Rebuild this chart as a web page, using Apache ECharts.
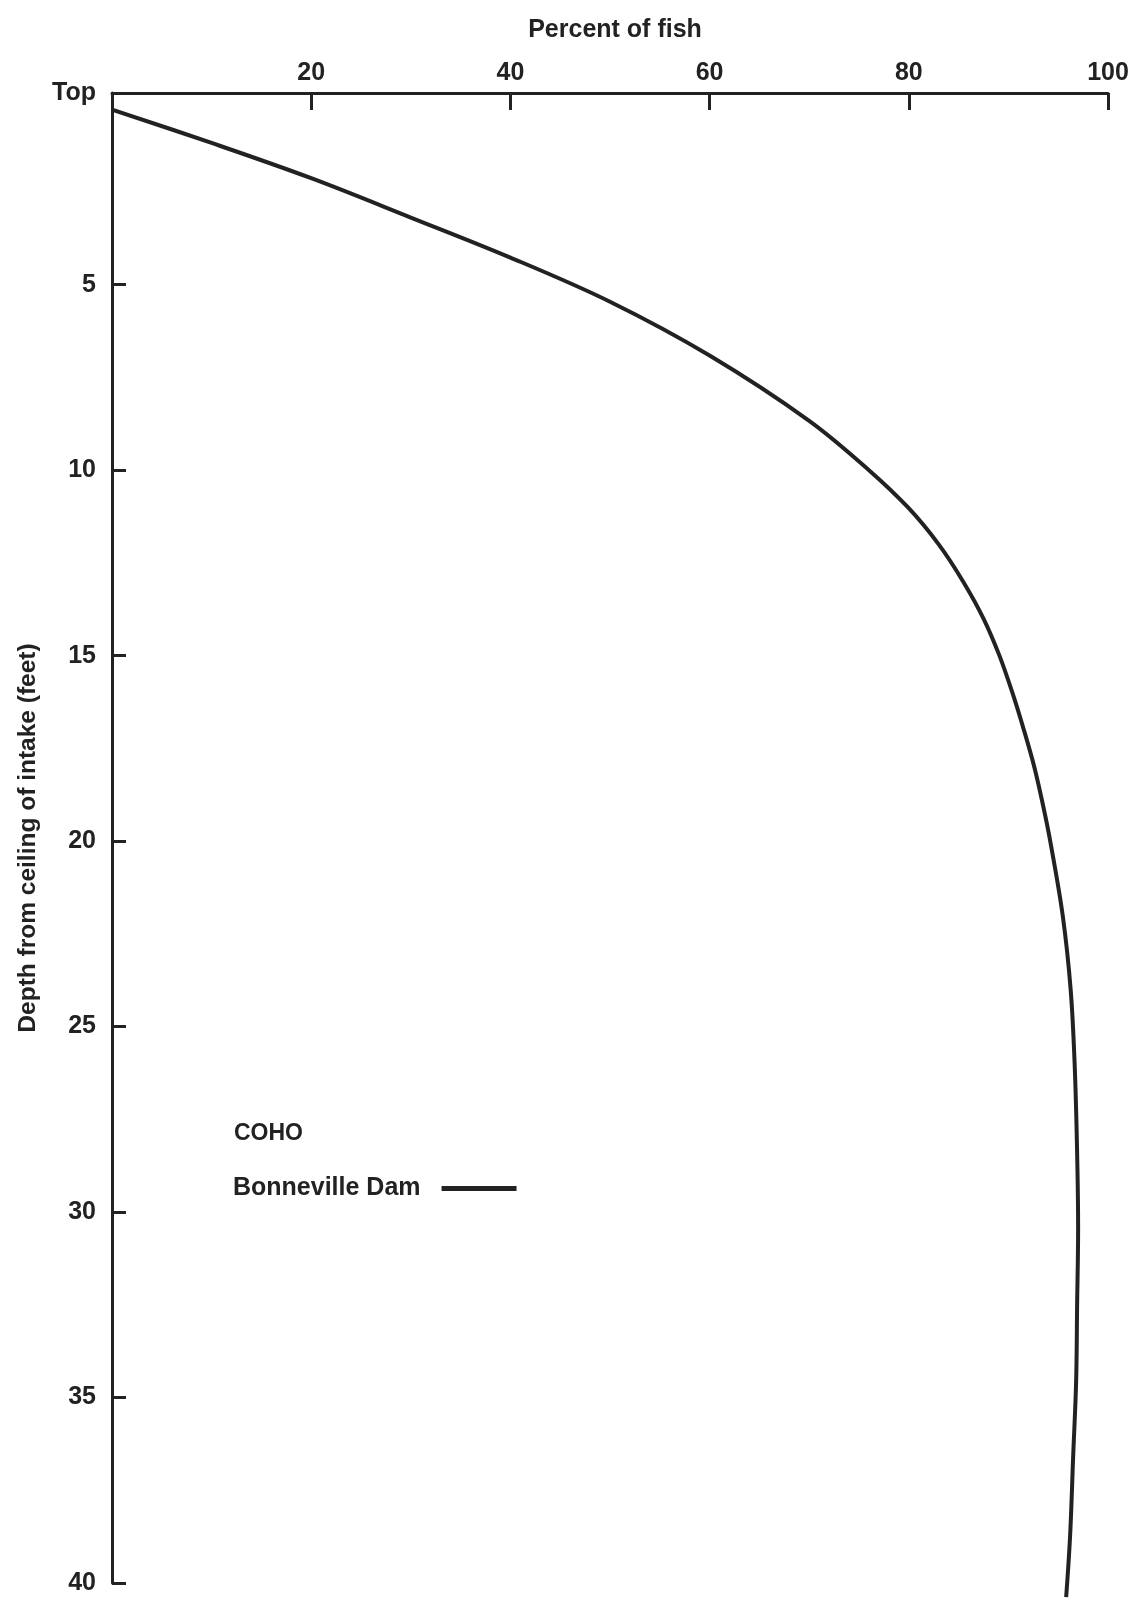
<!DOCTYPE html>
<html>
<head>
<meta charset="utf-8">
<script src="https://cdn.jsdelivr.net/npm/echarts@6/dist/echarts.min.js"></script>
<style>
  html, body { margin: 0; padding: 0; background: #fff; }
  #chart { width: 1135px; height: 1599px; }
</style>
</head>
<body>
<div id="chart"></div>
<script>
// Percent of fish (x) vs depth from ceiling of intake in feet (y)
const percentFish = [0, 10, 20, 30, 40, 50, 60, 70, 76.0, 79.9, 83.0, 85.45, 87.5, 89.1, 90.4, 91.55, 92.6, 93.45, 94.2, 95.45, 96.25, 96.65, 96.9, 97.0, 96.9, 96.8, 96.5, 96.2, 95.8];
const depthFeet   = [0.28, 1.18, 2.13, 3.19, 4.27, 5.46, 6.91, 8.67, 10, 11, 12, 13, 14, 15, 16, 17, 18, 19, 20, 22, 24, 26, 28.4, 30.45, 32.5, 34.57, 36.6, 38.7, 40.38];
const xTickValues = [20, 40, 60, 80, 100];
const yTickValues = [-0.167, 5, 10, 15, 20, 25, 30, 35, 40];
const yTickLabels = ['Top', '5', '10', '15', '20', '25', '30', '35', '40'];
const seriesName = 'Bonneville Dam';
const speciesLabel = 'COHO';

const FONT = '"Liberation Sans", Arial, Helvetica, sans-serif';
const INK = '#222';

const chart = echarts.init(document.getElementById('chart'), null, { renderer: 'canvas' });
chart.setOption({
  backgroundColor: '#fff',
  animation: false,
  title: {
    text: speciesLabel,
    left: 234,
    top: 1122,
    padding: 0,
    textStyle: { fontFamily: FONT, fontSize: 23, fontWeight: 'bold', color: INK }
  },
  legend: {
    left: 233,
    top: 1176,
    padding: 0,
    align: 'right',
    icon: 'rect',
    itemWidth: 75,
    itemHeight: 5,
    itemStyle: { color: INK },
    textStyle: { fontFamily: FONT, fontSize: 25, fontWeight: 'bold', color: INK, padding: [0, 16, 0, 0] },
    data: [seriesName]
  },
  grid: { left: 112, right: 27, top: 93, bottom: 16, containLabel: false },
  xAxis: {
    type: 'value',
    position: 'top',
    min: 0,
    max: 100,
    interval: 20,
    name: 'Percent of fish',
    nameLocation: 'middle',
    nameGap: 50,
    nameTextStyle: { fontFamily: FONT, fontSize: 25, fontWeight: 'bold', color: INK, padding: [0, 0, 0, 10] },
    axisLine: { show: true, onZero: false, lineStyle: { color: INK, width: 3 } },
    axisTick: { show: true, inside: true, length: 17, lineStyle: { color: INK, width: 3 } },
    axisLabel: {
      margin: 7,
      fontFamily: FONT, fontSize: 25, fontWeight: 'bold', color: INK,
      formatter: v => (xTickValues.indexOf(v) >= 0 ? String(v) : '')
    },
    splitLine: { show: false }
  },
  yAxis: {
    type: 'value',
    inverse: true,
    min: yTickValues[0],
    max: 40,
    name: 'Depth from ceiling of intake (feet)',
    nameLocation: 'middle',
    nameGap: 70,
    nameRotate: 90,
    nameTextStyle: { fontFamily: FONT, fontSize: 24.5, fontWeight: 'bold', color: INK },
    axisLine: { show: true, onZero: false, lineStyle: { color: INK, width: 3 } },
    axisTick: { show: true, inside: true, length: 14, customValues: yTickValues.slice(1), lineStyle: { color: INK, width: 3 } },
    axisLabel: {
      margin: 16,
      customValues: yTickValues,
      fontFamily: FONT, fontSize: 25, fontWeight: 'bold', color: INK,
      formatter: v => {
        const i = yTickValues.indexOf(v);
        return i >= 0 ? yTickLabels[i] : '';
      }
    },
    splitLine: { show: false }
  },
  series: [{
    name: seriesName,
    type: 'line',
    data: percentFish.map((p, i) => [p, depthFeet[i]]),
    smooth: 0.35,
    symbol: 'none',
    clip: false,
    lineStyle: { color: INK, width: 4 },
    itemStyle: { color: INK }
  }]
});
</script>
</body>
</html>
